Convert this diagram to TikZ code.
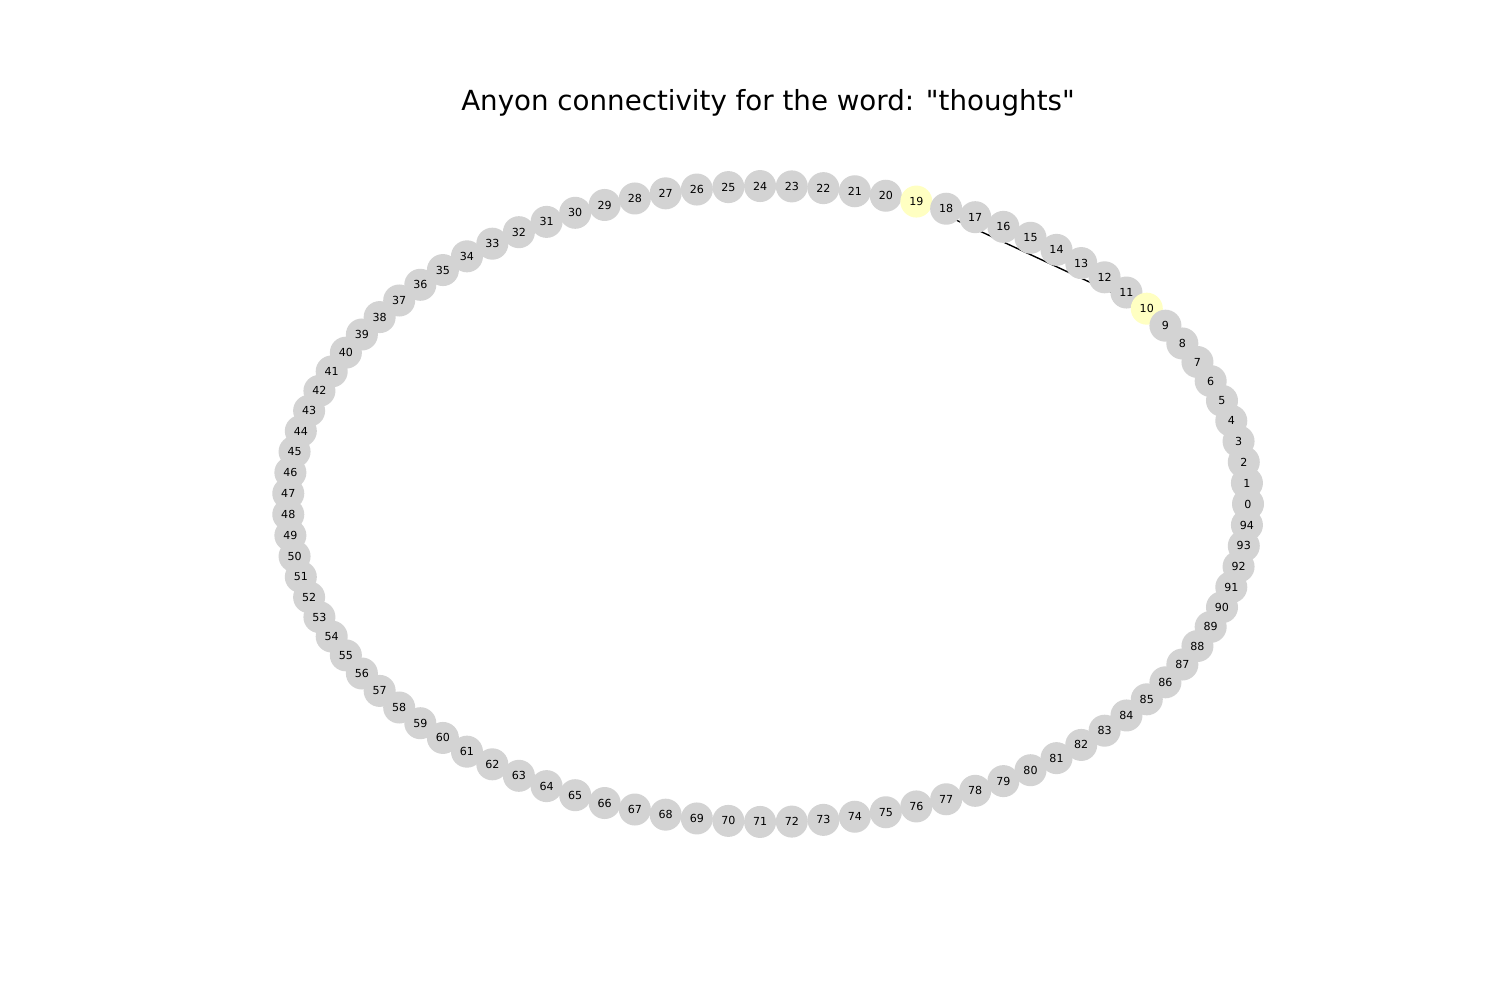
\documentclass[tikz,border=0pt]{standalone}
\usepackage{fontspec}
\setmainfont{DejaVu Sans}[Ligatures=TeXOff]
\usetikzlibrary{backgrounds}
\definecolor{nodegray}{HTML}{D3D3D3}
\definecolor{nodeyellow}{HTML}{FFFFC2}
\begin{document}
\begin{tikzpicture}[x=0.01in,y=-0.01in,
  anyon/.style={circle,fill=nodegray,draw=none,minimum size=0.32in,inner sep=0pt,font=\fontsize{8}{9}\selectfont},
  hot/.style={anyon,fill=nodeyellow},
  link/.style={draw=black,line width=1pt}]
\useasboundingbox (0,0) rectangle (1500,1000);
\node[font=\fontsize{20}{24}\selectfont] (title) at (768,103) {Anyon connectivity for the word: "thoughts"};
\foreach \i in {94,93,...,0}{
  \pgfmathsetmacro{\ang}{3.7894737*\i}
  \pgfmathsetmacro{\px}{768+480*cos(\ang)}
  \pgfmathsetmacro{\py}{504-318*sin(\ang)}
  \ifnum\i=10
    \node[hot] (n\i) at (\px,\py) {\i};
  \else\ifnum\i=19
    \node[hot] (n\i) at (\px,\py) {\i};
  \else
    \node[anyon] (n\i) at (\px,\py) {\i};
  \fi\fi
}
\begin{scope}[on background layer]
  \draw[link] (n10.center) -- (n19.center);
\end{scope}
\end{tikzpicture}
\end{document}
